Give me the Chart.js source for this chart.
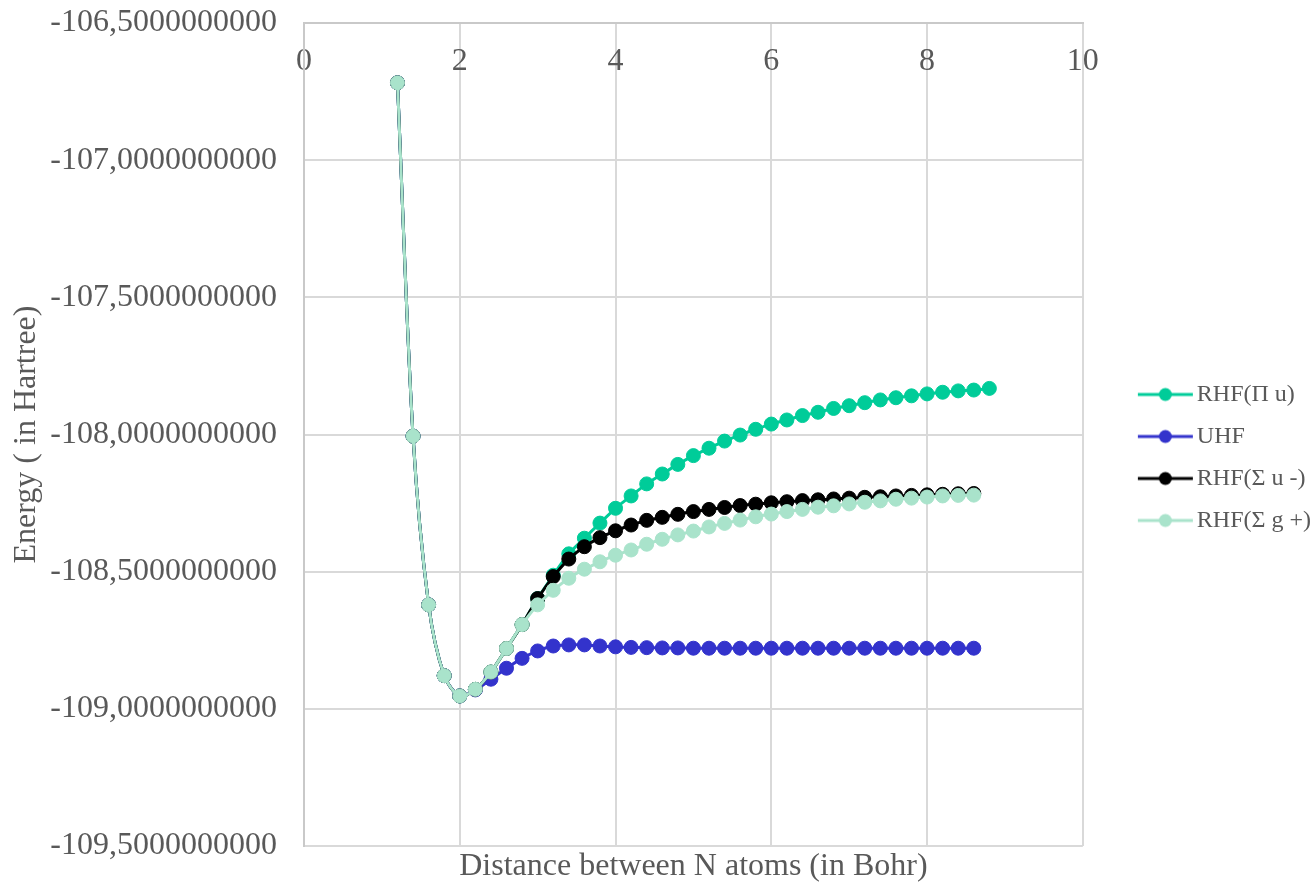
<!DOCTYPE html>
<html>
<head>
<meta charset="utf-8">
<title>N2 potential energy curves</title>
<script src="https://cdn.jsdelivr.net/npm/chart.js@4.4.1/dist/chart.umd.min.js"></script>
<style>
  html, body { margin: 0; padding: 0; background: #fff; }
</style>
</head>
<body>
<canvas id="energyChart" width="1315" height="886"></canvas>
<script>
// N-N distances (Bohr)
const distances = [
  1.2, 1.4, 1.6, 1.8, 2.0, 2.2, 2.4, 2.6, 2.8, 3.0,
  3.2, 3.4, 3.6, 3.8, 4.0, 4.2, 4.4, 4.6, 4.8, 5.0,
  5.2, 5.4, 5.6, 5.8, 6.0, 6.2, 6.4, 6.6, 6.8, 7.0,
  7.2, 7.4, 7.6, 7.8, 8.0, 8.2, 8.4, 8.6
];
// the Pi u scan goes one step further
const distancesPiU = [
  1.2, 1.4, 1.6, 1.8, 2.0, 2.2, 2.4, 2.6, 2.8, 3.0,
  3.2, 3.4, 3.6, 3.8, 4.0, 4.2, 4.4, 4.6, 4.8, 5.0,
  5.2, 5.4, 5.6, 5.8, 6.0, 6.2, 6.4, 6.6, 6.8, 7.0,
  7.2, 7.4, 7.6, 7.8, 8.0, 8.2, 8.4, 8.6, 8.8
];

// Total energies (Hartree)
const energyPiU = [
  -106.718, -108.006, -108.621, -108.879, -108.953, -108.929, -108.866, -108.780, -108.693, -108.598,
  -108.513, -108.435, -108.378, -108.323, -108.269, -108.224, -108.180, -108.144, -108.109, -108.077,
  -108.050, -108.024, -108.002, -107.981, -107.962, -107.947, -107.931, -107.919, -107.905, -107.895,
  -107.884, -107.874, -107.866, -107.859, -107.852, -107.846, -107.841, -107.838, -107.832
];
const energyUHF = [
  -106.718, -108.006, -108.621, -108.879, -108.953, -108.931, -108.892, -108.852, -108.816, -108.789,
  -108.771, -108.767, -108.767, -108.771, -108.774, -108.776, -108.777, -108.778, -108.778, -108.779,
  -108.779, -108.779, -108.779, -108.779, -108.779, -108.779, -108.779, -108.779, -108.779, -108.779,
  -108.779, -108.779, -108.779, -108.779, -108.779, -108.779, -108.779, -108.779
];
const energySigmaUMinus = [
  -106.718, -108.006, -108.621, -108.879, -108.953, -108.929, -108.866, -108.780, -108.693, -108.598,
  -108.518, -108.454, -108.409, -108.376, -108.351, -108.330, -108.313, -108.302, -108.291, -108.281,
  -108.273, -108.266, -108.259, -108.254, -108.249, -108.245, -108.241, -108.238, -108.235, -108.232,
  -108.229, -108.227, -108.224, -108.222, -108.220, -108.218, -108.216, -108.215
];
const energySigmaGPlus = [
  -106.718, -108.006, -108.621, -108.879, -108.953, -108.929, -108.866, -108.780, -108.693, -108.621,
  -108.568, -108.524, -108.491, -108.464, -108.440, -108.421, -108.400, -108.382, -108.366, -108.352,
  -108.337, -108.324, -108.312, -108.300, -108.290, -108.281, -108.273, -108.265, -108.260, -108.253,
  -108.247, -108.242, -108.236, -108.232, -108.228, -108.224, -108.222, -108.221
];

const seriesNames = ['RHF(\u03A0 u)', 'UHF', 'RHF(\u03A3 u -)', 'RHF(\u03A3 g +)'];
const seriesColors = ['#00CC99', '#3333CC', '#000000', '#A9E3CB'];

const xLimits = [0, 10];
const yLimits = [-109.5, -106.5];

const serif = "'Liberation Serif', 'Times New Roman', serif";
const textGrey = '#595959';

function toPoints(xs, ys) {
  return xs.map((x, i) => ({x: x, y: ys[i]}));
}

// little line + marker swatch for the legend
function makeSwatch(color) {
  const c = document.createElement('canvas');
  c.width = 110;
  c.height = 16;
  const g = c.getContext('2d');
  g.strokeStyle = color;
  g.lineWidth = 3;
  g.beginPath();
  g.moveTo(50, 8);
  g.lineTo(105, 8);
  g.stroke();
  g.fillStyle = color;
  g.beginPath();
  g.arc(77.5, 8, 6.5, 0, Math.PI * 2);
  g.fill();
  return c;
}
const swatches = seriesColors.map(makeSwatch);

function series(i, xs, ys, order) {
  return {
    label: seriesNames[i],
    data: toPoints(xs, ys),
    borderColor: seriesColors[i],
    backgroundColor: seriesColors[i],
    pointBackgroundColor: seriesColors[i],
    pointBorderColor: seriesColors[i],
    borderWidth: 3,
    pointRadius: 7,
    pointBorderWidth: 1,
    tension: 0.3,
    order: order
  };
}

new Chart(document.getElementById('energyChart'), {
  type: 'line',
  data: {
    datasets: [
      series(0, distancesPiU, energyPiU, 4),
      series(1, distances, energyUHF, 3),
      series(2, distances, energySigmaUMinus, 2),
      series(3, distances, energySigmaGPlus, 1)
    ]
  },
  options: {
    responsive: false,
    animation: false,
    devicePixelRatio: 1,
    layout: {padding: {top: 23, right: -6, left: 0, bottom: 0}},
    plugins: {
      tooltip: {enabled: false},
      legend: {
        position: 'right',
        title: {display: true, text: '', padding: 0, font: {size: 6, lineHeight: 1}},
        labels: {
          usePointStyle: true,
          pointStyleWidth: 84,
          padding: 18,
          color: textGrey,
          font: {family: serif, size: 24},
          generateLabels: chart => chart.data.datasets.map((ds, i) => ({
            text: ds.label,
            fillStyle: ds.borderColor,
            strokeStyle: ds.borderColor,
            lineWidth: 0,
            pointStyle: swatches[i],
            fontColor: textGrey,
            hidden: false,
            datasetIndex: i
          }))
        }
      }
    },
    scales: {
      x: {
        type: 'linear',
        position: {y: yLimits[1]},
        min: xLimits[0],
        max: xLimits[1],
        ticks: {stepSize: 2, padding: 19, color: textGrey, font: {family: serif, size: 32}},
        grid: {color: '#D9D9D9', lineWidth: 2, drawTicks: false},
        border: {color: '#C9C9C9', width: 2},
        afterFit: s => { s.height = 0; }
      },
      x2: {
        type: 'linear',
        position: 'bottom',
        ticks: {display: false},
        grid: {display: false, drawTicks: false},
        border: {display: false},
        title: {
          display: true,
          text: 'Distance between N atoms (in Bohr)',
          color: textGrey,
          font: {family: serif, size: 32},
          padding: 0
        },
        afterFit: s => { s.height = 40; }
      },
      y: {
        type: 'linear',
        min: yLimits[0],
        max: yLimits[1],
        ticks: {
          stepSize: 0.5,
          padding: 27,
          color: textGrey,
          font: {family: serif, size: 32},
          callback: v => v.toFixed(10).replace('.', ',')
        },
        grid: {color: '#D9D9D9', lineWidth: 2, drawTicks: false},
        border: {color: '#C9C9C9', width: 2},
        title: {
          display: true,
          text: 'Energy ( in Hartree)',
          color: textGrey,
          font: {family: serif, size: 32},
          padding: {top: 7, bottom: 0}
        },
        afterFit: s => {
          s.width = 304;
          // end labels may overhang the plot area
          s.paddingTop = 0;
          s.paddingBottom = 0;
        }
      }
    }
  }
});
</script>
</body>
</html>
